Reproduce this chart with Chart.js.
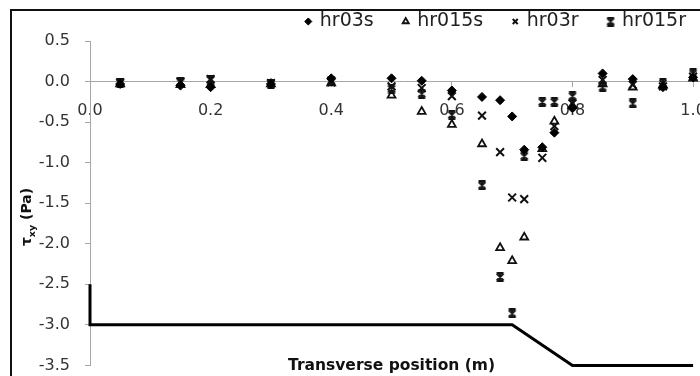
<!DOCTYPE html>
<html><head><meta charset="utf-8">
<script src="https://cdn.jsdelivr.net/npm/chart.js@4"></script>
<style>
html,body{margin:0;padding:0;background:#fff;}
#wrap{width:700px;height:376px;overflow:hidden;position:relative;background:#fff;}
canvas{display:block;}
</style></head><body>
<div id="wrap"><canvas id="c" width="740" height="390"></canvas></div>
<script>
// ---- data ----
const positions = [0.05, 0.15, 0.2, 0.3, 0.4, 0.5, 0.55, 0.6, 0.65, 0.68, 0.7, 0.72, 0.75, 0.77, 0.8, 0.85, 0.9, 0.95, 1.0];
const hr03s  = [-0.03, -0.05, -0.07, -0.03, 0.04, 0.04, 0.01, -0.11, -0.19, -0.23, -0.43, -0.84, -0.81, -0.63, -0.33, 0.10, 0.03, -0.07, 0.05];
const hr015s = [-0.03, -0.04, -0.04, -0.03, -0.02, -0.17, -0.37, -0.53, -0.77, -2.05, -2.21, -1.92, -0.83, -0.49, -0.30, -0.03, -0.07, -0.05, 0.04];
const hr03r  = [-0.01, 0.00, 0.03, -0.02, -0.01, -0.06, -0.08, -0.18, -0.42, -0.87, -1.43, -1.45, -0.94, -0.55, -0.27, 0.02, -0.04, -0.06, 0.06];
const hr015r = [-0.02, -0.01, 0.02, -0.03, 0.01, -0.09, -0.15, -0.41, -1.28, -2.41, -2.86, -0.92, -0.25, -0.25, -0.18, -0.07, -0.27, -0.02, 0.10];
const bedX = [0, 0, 0.7, 0.8, 1.0];
const bedY = [-2.5, -3.0, -3.0, -3.5, -3.5];
const xTicks = [0, 0.2, 0.4, 0.6, 0.8, 1.0];
const yTicks = [0.5, 0, -0.5, -1.0, -1.5, -2.0, -2.5, -3.0, -3.5];
const seriesNames = ['hr03s', 'hr015s', 'hr03r', 'hr015r'];
const xTitle = 'Transverse position (m)';

const pts = (vals) => positions.map((x, i) => ({x: x, y: vals[i]}));

function starMarker(size, lw, color) {
  const c = document.createElement('canvas');
  c.width = c.height = size;
  const g = c.getContext('2d');
  g.strokeStyle = color; g.lineWidth = lw; g.lineCap = 'butt';
  const m = 1.5, e = size - 1.5, h = size / 2;
  g.beginPath();
  g.moveTo(m, m); g.lineTo(e, e);
  g.moveTo(e, m); g.lineTo(m, e);
  g.moveTo(h, 0.5); g.lineTo(h, size - 0.5);
  g.moveTo(m, 1); g.lineTo(e, 1);
  g.moveTo(m, size - 1); g.lineTo(e, size - 1);
  g.stroke();
  return c;
}
const starImg = starMarker(10, 1.8, '#111');

const FONT = "'DejaVu Sans', 'Noto Sans', sans-serif";
const grey = '#a6a6a6';

const decor = {
  id: 'decor',
  beforeDraw(chart) {
    const ctx = chart.ctx;
    ctx.save();
    ctx.fillStyle = '#fff';
    ctx.fillRect(0, 0, chart.width, chart.height);
    ctx.strokeStyle = '#111';
    ctx.lineWidth = 2;
    ctx.strokeRect(11, 10, chart.width + 40, chart.height + 40);
    ctx.restore();
  },
  afterDraw(chart) {
    const ctx = chart.ctx;
    const xs = chart.scales.x, ys = chart.scales.y;
    ctx.save();
    ctx.fillStyle = '#111';
    ctx.font = 'bold 15.5px ' + FONT;
    ctx.textAlign = 'center';
    ctx.textBaseline = 'middle';
    ctx.fillText(xTitle, xs.getPixelForValue(0.5), chart.chartArea.bottom + 1);
    // y title: tau with subscript xy, then (Pa)
    ctx.translate(chart.chartArea.left - 64, ys.getPixelForValue(-1.67));
    ctx.rotate(-Math.PI / 2);
    ctx.textAlign = 'left';
    ctx.textBaseline = 'alphabetic';
    const big = 'bold 14px ' + FONT, small = 'bold 9.5px ' + FONT;
    ctx.font = big; const w1 = ctx.measureText('τ').width;
    ctx.font = small; const w2 = ctx.measureText('xy').width;
    ctx.font = big; const w3 = ctx.measureText(' (Pa)').width;
    let u = -(w1 + w2 + w3) / 2;
    ctx.font = big; ctx.fillText('τ', u, 5); u += w1;
    ctx.font = small; ctx.fillText('xy', u, 8.5); u += w2;
    ctx.font = big; ctx.fillText(' (Pa)', u, 5);
    ctx.restore();
  }
};

new Chart(document.getElementById('c'), {
  type: 'scatter',
  data: {
    datasets: [
      { label: seriesNames[0], data: pts(hr03s), pointStyle: 'rectRot', pointRadius: 4.5, pointHoverRadius: 4.5,
        backgroundColor: '#000', borderColor: '#000', borderWidth: 1 },
      { label: seriesNames[1], data: pts(hr015s), pointStyle: 'triangle', pointRadius: 4.5, pointHoverRadius: 4.5,
        backgroundColor: 'rgba(255,255,255,0)', borderColor: '#111', borderWidth: 1.8 },
      { label: seriesNames[2], data: pts(hr03r), pointStyle: 'crossRot', pointRadius: 5.5, pointHoverRadius: 5.5,
        backgroundColor: '#111', borderColor: '#111', borderWidth: 2 },
      { label: seriesNames[3], data: pts(hr015r), pointStyle: starImg, pointRadius: 5,
        backgroundColor: '#111', borderColor: '#111', borderWidth: 1.8 },
      { label: 'bed', data: bedX.map((x, i) => ({x: x, y: bedY[i]})), showLine: true, pointRadius: 0,
        borderColor: '#000', borderWidth: 3, clip: false, order: 10 }
    ]
  },
  options: {
    responsive: false,
    animation: false,
    devicePixelRatio: 1,
    layout: { padding: { left: 10, right: 24, top: -18, bottom: 0 } },
    plugins: {
      legend: {
        position: 'top', align: 'end',
        labels: {
          usePointStyle: true, boxWidth: 4, boxHeight: 5, padding: 30,
          color: '#222', font: { family: FONT, size: 19 },
          filter: (item) => item.text !== 'bed'
        }
      },
      tooltip: { enabled: false }
    },
    scales: {
      x: {
        type: 'linear', position: { y: 0 }, min: 0, max: 1.038,
        afterBuildTicks: (a) => { a.ticks = xTicks.map(v => ({value: v})); },
        ticks: { padding: 15, color: '#333', font: { family: FONT, size: 16 },
                 callback: (v) => Number(v).toFixed(1) },
        grid: { drawOnChartArea: false, drawTicks: true, tickLength: 5, color: grey },
        border: { color: grey, width: 1 }
      },
      y: {
        type: 'linear', position: 'left', min: -3.5, max: 0.5,
        afterFit: (s) => { s.width = 80; },
        afterBuildTicks: (a) => { a.ticks = yTicks.map(v => ({value: v})); },
        ticks: { padding: 15, color: '#333', font: { family: FONT, size: 16 },
                 callback: (v) => Number(v).toFixed(1) },
        grid: { drawOnChartArea: false, drawTicks: true, tickLength: 5, color: grey },
        border: { color: grey, width: 1 }
      }
    }
  },
  plugins: [decor]
});
</script>
</body></html>
